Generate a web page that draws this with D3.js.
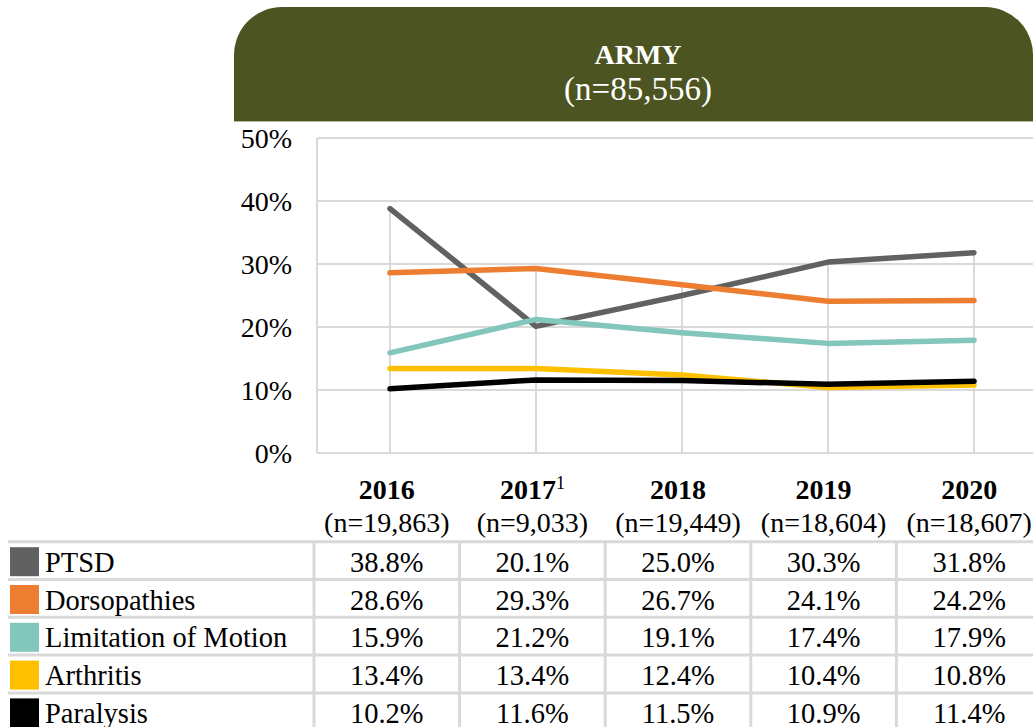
<!DOCTYPE html>
<html>
<head>
<meta charset="utf-8">
<script src="https://cdn.jsdelivr.net/npm/d3@7"></script>
<style>
  html, body { margin: 0; padding: 0; background: #fff; }
  svg { display: block; font-family: "Liberation Serif", "DejaVu Serif", serif; }
</style>
</head>
<body>
<svg id="chart" width="1033" height="727"></svg>
<script>
// Categories and header labels
const years = ["2016", "2017", "2018", "2019", "2020"];
const yearNotes = ["", "1", "", "", ""];
const yearCounts = ["(n=19,863)", "(n=9,033)", "(n=19,449)", "(n=18,604)", "(n=18,607)"];

// Series (percent of service members)
const seriesNames = ["PTSD", "Dorsopathies", "Limitation of Motion", "Arthritis", "Paralysis"];
const seriesColors = ["#616161", "#ed7d31", "#82c6bc", "#ffc000", "#000000"];
const ptsd = [38.8, 20.1, 25.0, 30.3, 31.8];
const dorsopathies = [28.6, 29.3, 26.7, 24.1, 24.2];
const limitationOfMotion = [15.9, 21.2, 19.1, 17.4, 17.9];
const arthritis = [13.4, 13.4, 12.4, 10.4, 10.8];
const paralysis = [10.2, 11.6, 11.5, 10.9, 11.4];

// Axis ticks
const yTicks = [0, 10, 20, 30, 40, 50];

const title = "ARMY";
const subtitle = "(n=85,556)";

const seriesValues = [ptsd, dorsopathies, limitationOfMotion, arthritis, paralysis];
const series = seriesNames.map((name, i) => ({
  name, color: seriesColors[i],
  values: seriesValues[i].map((v, j) => ({ year: years[j], value: v }))
}));

const svg = d3.select("#chart");
const gridColor = "#d9d9d9";

// ---- Banner ----
const bx0 = 234, bx1 = 1033, by0 = 7, by1 = 121, r = 48;
svg.append("path")
  .attr("d", `M${bx0},${by1} L${bx0},${by0 + r} A${r},${r} 0 0 1 ${bx0 + r},${by0}
              L${bx1 - r},${by0} A${r},${r} 0 0 1 ${bx1},${by0 + r} L${bx1},${by1} Z`)
  .attr("fill", "#4c5421");
svg.append("line")
  .attr("x1", bx0).attr("x2", bx1).attr("y1", by1 + 0.5).attr("y2", by1 + 0.5)
  .attr("stroke", "#b6b89c").attr("stroke-width", 1);
svg.append("text")
  .attr("x", 638).attr("y", 64).attr("text-anchor", "middle")
  .attr("fill", "#fff").attr("font-weight", "bold").attr("font-size", 28)
  .text(title);
svg.append("text")
  .attr("x", 638).attr("y", 100).attr("text-anchor", "middle")
  .attr("fill", "#fff").attr("font-size", 33)
  .text(subtitle);

// ---- Plot ----
const plotLeft = 317, plotTop = 138, plotBottom = 453;
const x = d3.scaleBand().domain(years).range([plotLeft, plotLeft + 146 * years.length]);
const cx = d => x(d) + x.bandwidth() / 2;
const y = d3.scaleLinear().domain([0, 50]).range([plotBottom, plotTop]);

// horizontal gridlines
svg.append("g").selectAll("line").data(yTicks).join("line")
  .attr("x1", plotLeft).attr("x2", 1033)
  .attr("y1", d => y(d)).attr("y2", d => y(d))
  .attr("stroke", gridColor).attr("stroke-width", 2);
// plot area left border
svg.append("line")
  .attr("x1", plotLeft).attr("x2", plotLeft)
  .attr("y1", plotTop).attr("y2", plotBottom)
  .attr("stroke", gridColor).attr("stroke-width", 2);

// y tick labels
const yAxis = d3.axisLeft(y).tickValues(yTicks).tickFormat(d => d + "%").tickSize(0).tickPadding(0);
const yg = svg.append("g").attr("transform", "translate(292,0)").call(yAxis);
yg.select(".domain").remove();
yg.selectAll("text")
  .attr("font-family", "Liberation Serif, serif").attr("font-size", 28)
  .attr("fill", "#000").attr("dy", "0.33em");

// drop lines from the highest value at each year to the axis
svg.append("g").selectAll("line").data(years).join("line")
  .attr("x1", d => cx(d)).attr("x2", d => cx(d))
  .attr("y1", (d, j) => y(d3.max(seriesValues, s => s[j])))
  .attr("y2", plotBottom)
  .attr("stroke", gridColor).attr("stroke-width", 2);

// series lines
const line = d3.line().x(d => cx(d.year)).y(d => y(d.value));
svg.append("g").selectAll("path").data(series).join("path")
  .attr("d", d => line(d.values))
  .attr("fill", "none").attr("stroke", d => d.color)
  .attr("stroke-width", 5.5).attr("stroke-linecap", "round").attr("stroke-linejoin", "round");

// ---- Data table ----
const tx = d3.scaleBand().domain(years).range([314, 314 + 145.6 * years.length]);
const tcx = d => tx(d) + tx.bandwidth() / 2;
const rowTop = 541.7, rowH = 37.8;
const ty = d3.scaleBand().domain(seriesNames).range([rowTop, rowTop + rowH * seriesNames.length]);

// header: years and counts
const head = svg.append("g");
years.forEach((yr, j) => {
  const t = head.append("text")
    .attr("x", tcx(yr)).attr("y", 499).attr("text-anchor", "middle")
    .attr("font-size", 28).attr("font-weight", "bold").attr("fill", "#000");
  t.append("tspan").text(yr);
  if (yearNotes[j]) {
    t.append("tspan").attr("font-weight", "normal").attr("font-size", 18)
      .attr("dy", -10).text(yearNotes[j]);
  }
  head.append("text")
    .attr("x", tcx(yr)).attr("y", 532).attr("text-anchor", "middle")
    .attr("font-size", 28).attr("fill", "#000")
    .text(yearCounts[j]);
});

// table grid
const grid = svg.append("g").attr("stroke", gridColor).attr("stroke-width", 3);
grid.selectAll("line.h").data(seriesNames).join("line").attr("class", "h")
  .attr("x1", 8).attr("x2", 1033)
  .attr("y1", d => ty(d)).attr("y2", d => ty(d));
grid.selectAll("line.v").data(years).join("line").attr("class", "v")
  .attr("x1", d => tx(d)).attr("x2", d => tx(d))
  .attr("y1", rowTop).attr("y2", 727);

// legend keys and row labels
const rows = svg.append("g").selectAll("g").data(series).join("g")
  .attr("transform", d => `translate(0,${ty(d.name)})`);
rows.append("rect")
  .attr("x", 10).attr("y", 5.5).attr("width", 29).attr("height", 29)
  .attr("fill", d => d.color);
rows.append("text")
  .attr("x", 45).attr("y", 30).attr("font-size", 28.5).attr("fill", "#000")
  .text(d => d.name);
const fmt = d3.format(".1f");
rows.selectAll("text.val").data(d => d.values).join("text").attr("class", "val")
  .attr("x", d => tcx(d.year)).attr("y", 30).attr("text-anchor", "middle")
  .attr("font-size", 28.5).attr("fill", "#000")
  .text(d => fmt(d.value) + "%");
</script>
</body>
</html>
